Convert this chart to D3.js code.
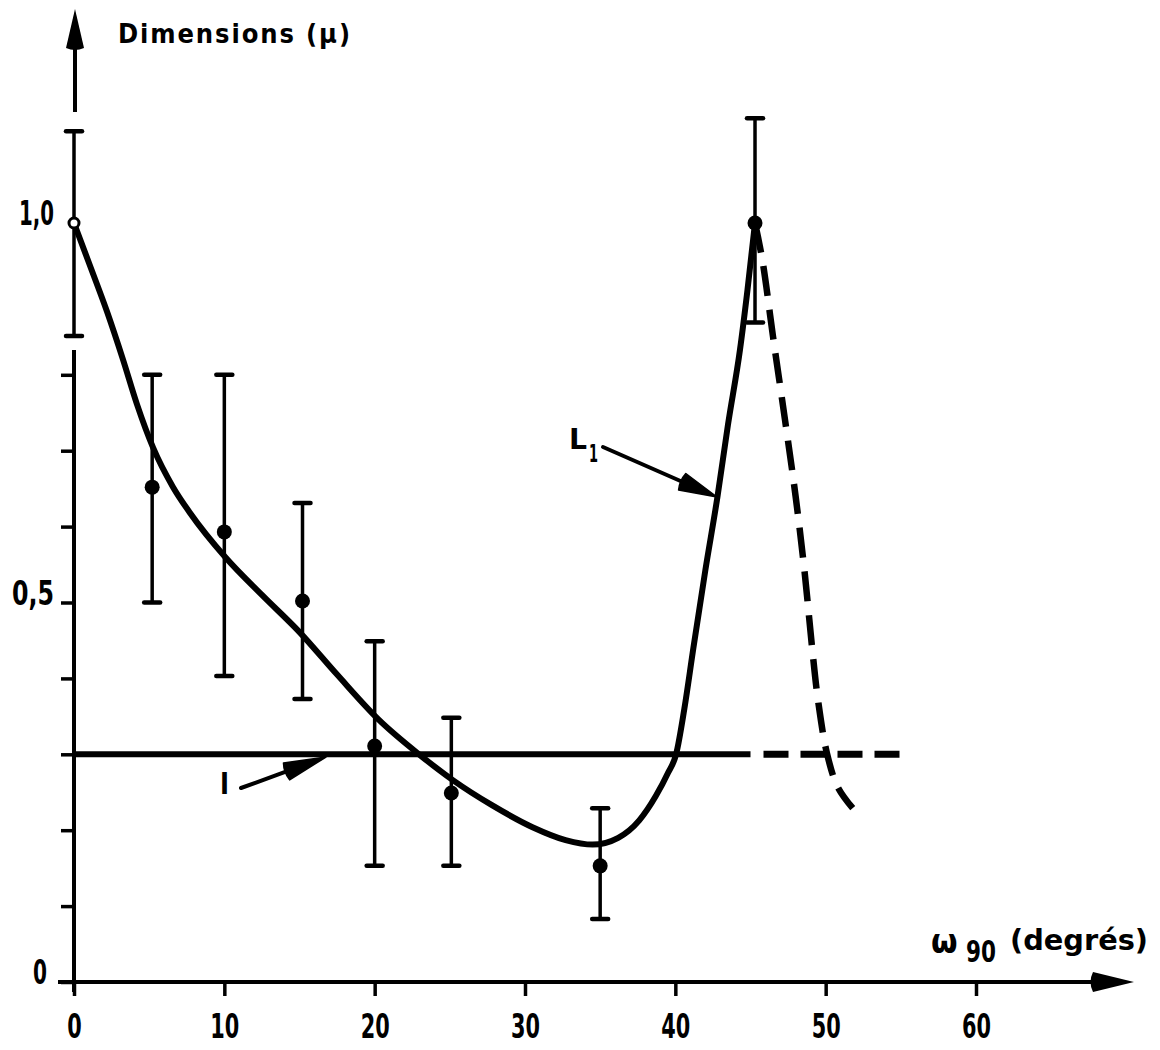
<!DOCTYPE html>
<html>
<head>
<meta charset="utf-8">
<script src="https://cdn.jsdelivr.net/npm/d3@7"></script>
<style>
  html, body { margin: 0; padding: 0; background: #fff; }
  svg { display: block; }
  text { font-family: "DejaVu Sans Condensed", "DejaVu Sans", sans-serif; font-weight: bold; fill: #000; }
</style>
</head>
<body>
<svg id="chart" width="1160" height="1050"></svg>
<script>
// ---------- data ----------
const xTicks = [0, 10, 20, 30, 40, 50, 60];
const yTicks = [0, 0.1, 0.2, 0.3, 0.4, 0.5, 0.6, 0.7, 0.8];
const yLabelValues = [0, 0.5, 1.0];
const yLabelTexts = ["0", "0,5", "1,0"];

// measured points with error bars
const pointX = [0, 5.2, 10, 15.2, 20, 25.1, 35, 45.3];
const pointY = [1.0, 0.652, 0.593, 0.502, 0.311, 0.249, 0.153, 1.0];
const errLow = [0.851, 0.50, 0.403, 0.373, 0.153, 0.153, 0.083, 0.869];
const errHigh = [1.121, 0.80, 0.80, 0.631, 0.449, 0.348, 0.229, 1.138];
const pointOpen = [true, false, false, false, false, false, false, false];

// curve L1 (solid part)
const l1X = [0, 1.06, 2.2, 3.26, 4.19, 5.26, 6.59, 7.72, 10.1, 12.5, 15, 17.5, 20.3, 22.95, 25.2, 27.8, 30.5, 32.7, 34.5, 36.2, 37.6, 38.7, 39.5, 40.05, 40.6, 41.2, 42.0, 42.8, 43.5, 44.3, 44.8, 45.3];
const l1Y = [1.0, 0.944, 0.883, 0.82, 0.761, 0.704, 0.652, 0.618, 0.559, 0.51, 0.461, 0.405, 0.345, 0.30, 0.266, 0.233, 0.204, 0.187, 0.181, 0.19, 0.213, 0.245, 0.275, 0.30, 0.36, 0.44, 0.543, 0.639, 0.734, 0.833, 0.912, 1.0];

// curve L1 (dashed continuation)
const l1DashX = [45.3, 45.8, 46.5, 47.3, 48.0, 48.6, 49.1, 49.5, 50.1, 50.8, 51.8];
const l1DashY = [1.0, 0.95, 0.85, 0.74, 0.64, 0.54, 0.44, 0.37, 0.30, 0.257, 0.229];

// horizontal level l
const levelValue = 0.30;
const levelSolidX = [0, 45];
const levelDashX = [45, 55];

// ---------- drawing ----------
const svg = d3.select("#chart");
const x = d3.scaleLinear().domain([0, 60]).range([74, 976]);
const y = d3.scaleLinear().domain([0, 1]).range([982, 223]);

const black = "#000";

// x axis
const xAxis = d3.axisBottom(x).tickValues(xTicks).tickSize(14).tickPadding(19).tickFormat(d3.format("d"));
const gx = svg.append("g").attr("transform", `translate(0,${y(0)})`).call(xAxis);
gx.select(".domain").remove();
gx.selectAll(".tick line").attr("stroke", black).attr("stroke-width", 3.5);
gx.selectAll(".tick text")
  .attr("font-size", 33).attr("fill", black)
  .attr("font-family", "'DejaVu Sans Condensed', sans-serif").attr("font-weight", "bold")
  .attr("textLength", d => String(d).length * 14.5)
  .attr("lengthAdjust", "spacingAndGlyphs");

svg.append("line")
  .attr("x1", 58).attr("x2", 1100).attr("y1", y(0)).attr("y2", y(0))
  .attr("stroke", black).attr("stroke-width", 4);
// x arrow head
svg.append("path")
  .attr("d", `M1093,${y(0) - 10} L1134,${y(0)} L1093,${y(0) + 10} Q1088,${y(0)} 1093,${y(0) - 10} Z`)
  .attr("fill", black);

// y axis ticks
const yAxis = d3.axisLeft(y).tickValues(yTicks).tickSize(13).tickFormat("");
const gy = svg.append("g").attr("transform", `translate(${x(0)},0)`).call(yAxis);
gy.select(".domain").remove();
gy.selectAll(".tick line").attr("stroke", black).attr("stroke-width", 3.5);

// y axis line (broken where the error bar of the first point sits)
svg.append("line")
  .attr("x1", x(0)).attr("x2", x(0)).attr("y1", y(0) + 10).attr("y2", 350)
  .attr("stroke", black).attr("stroke-width", 4);
svg.append("line")
  .attr("x1", x(0) + 1).attr("x2", x(0) + 1).attr("y1", 112).attr("y2", 45)
  .attr("stroke", black).attr("stroke-width", 4);
// y arrow head
svg.append("path")
  .attr("d", `M${x(0) + 1},9 L${x(0) + 10},48 Q${x(0) + 1},52 ${x(0) - 8},48 Z`)
  .attr("fill", black);

// y labels
const yLabelWidths = [14, 42, 35];
svg.selectAll(".ylab").data(yLabelValues).enter().append("text")
  .attr("class", "ylab")
  .attr("x", (d, i) => i === 0 ? 47 : 54)
  .attr("y", d => y(d) + 2)
  .attr("text-anchor", "end")
  .attr("font-size", 33)
  .attr("textLength", (d, i) => yLabelWidths[i])
  .attr("lengthAdjust", "spacingAndGlyphs")
  .text((d, i) => yLabelTexts[i]);

// axis titles
svg.append("text").attr("x", 118).attr("y", 43).attr("font-size", 27)
  .attr("textLength", 232).attr("lengthAdjust", "spacing").text("Dimensions (μ)");
svg.append("text").attr("x", 931).attr("y", 953).attr("font-size", 34).text("ω");
svg.append("text").attr("x", 966).attr("y", 962).attr("font-size", 30)
  .attr("textLength", 30).attr("lengthAdjust", "spacingAndGlyphs").text("90");
svg.append("text").attr("x", 1010).attr("y", 950).attr("font-size", 28)
  .attr("textLength", 138).attr("lengthAdjust", "spacingAndGlyphs").text("(degrés)");

// level line l
svg.append("line")
  .attr("x1", x(levelSolidX[0])).attr("x2", x(levelSolidX[1]))
  .attr("y1", y(levelValue)).attr("y2", y(levelValue))
  .attr("stroke", black).attr("stroke-width", 6);
svg.append("line")
  .attr("x1", x(levelDashX[0]) + 13).attr("x2", x(levelDashX[1]))
  .attr("y1", y(levelValue)).attr("y2", y(levelValue))
  .attr("stroke", black).attr("stroke-width", 7)
  .attr("stroke-dasharray", "25,12");

// L1 curve
const line = d3.line().x(d => x(d[0])).y(d => y(d[1])).curve(d3.curveMonotoneX);
svg.append("path")
  .attr("d", line(l1X.map((v, i) => [v, l1Y[i]])))
  .attr("fill", "none").attr("stroke", black).attr("stroke-width", 6)
  .attr("stroke-linecap", "round");
const lineD = d3.line().x(d => x(d[0])).y(d => y(d[1])).curve(d3.curveCatmullRom.alpha(0.5));
svg.append("path")
  .attr("d", lineD(l1DashX.map((v, i) => [v, l1DashY[i]])))
  .attr("fill", "none").attr("stroke", black).attr("stroke-width", 6.5)
  .attr("stroke-dasharray", "30,14");

// error bars
const pts = pointX.map((v, i) => ({ x: v, y: pointY[i], lo: errLow[i], hi: errHigh[i], open: pointOpen[i] }));
const eb = svg.append("g");
pts.forEach(p => {
  eb.append("line").attr("x1", x(p.x)).attr("x2", x(p.x)).attr("y1", y(p.lo)).attr("y2", y(p.hi))
    .attr("stroke", black).attr("stroke-width", 3.5);
  [p.lo, p.hi].forEach(v => {
    eb.append("line").attr("x1", x(p.x) - 8).attr("x2", x(p.x) + 8).attr("y1", y(v)).attr("y2", y(v))
      .attr("stroke", black).attr("stroke-width", 4.5).attr("stroke-linecap", "round");
  });
});
// points
svg.selectAll(".pt").data(pts).enter().append("circle")
  .attr("class", "pt")
  .attr("cx", d => x(d.x)).attr("cy", d => y(d.y))
  .attr("r", d => d.open ? 5 : 7.5)
  .attr("fill", d => d.open ? "#fff" : black)
  .attr("stroke", black).attr("stroke-width", d => d.open ? 3 : 0);

// annotation L1
svg.append("text").attr("x", 569).attr("y", 449).attr("font-size", 29)
  .attr("textLength", 18).attr("lengthAdjust", "spacingAndGlyphs").text("L");
svg.append("text").attr("x", 589).attr("y", 462).attr("font-size", 24)
  .attr("textLength", 9).attr("lengthAdjust", "spacingAndGlyphs").text("1");
function arrow(x1, y1, x2, y2, hl, hw) {
  const a = Math.atan2(y2 - y1, x2 - x1);
  const bx = x2 - hl * Math.cos(a), by = y2 - hl * Math.sin(a);
  svg.append("line").attr("x1", x1).attr("y1", y1).attr("x2", bx).attr("y2", by)
    .attr("stroke", black).attr("stroke-width", 4).attr("stroke-linecap", "round");
  const px = -Math.sin(a) * hw, py = Math.cos(a) * hw;
  svg.append("path")
    .attr("d", `M${x2},${y2} L${bx + px},${by + py} Q${bx - 3 * Math.cos(a)},${by - 3 * Math.sin(a)} ${bx - px},${by - py} Z`)
    .attr("fill", black).attr("stroke", black).attr("stroke-width", 1.5).attr("stroke-linejoin", "round");
}
arrow(603, 447, 717, 497, 38, 9);

// annotation l
svg.append("text").attr("x", 220).attr("y", 794).attr("font-size", 28)
  .attr("textLength", 9).attr("lengthAdjust", "spacingAndGlyphs").text("l");
arrow(241, 788, 326, 757, 42, 9);
</script>
</body>
</html>
